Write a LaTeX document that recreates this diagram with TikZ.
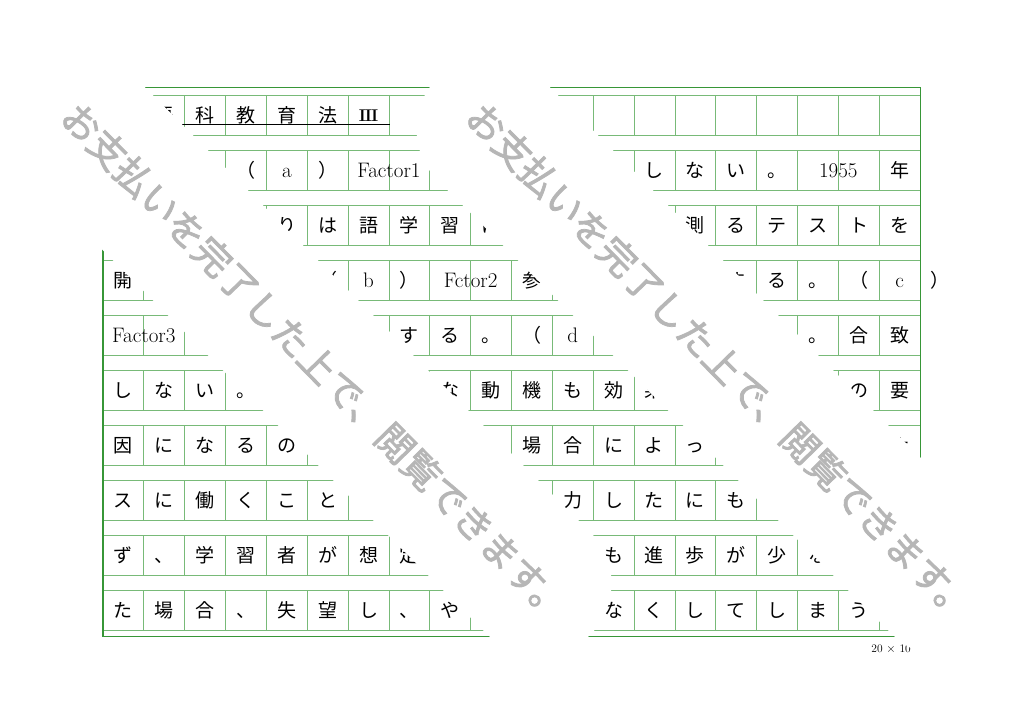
\documentclass[tikz,border=0pt]{standalone}
\usepackage{fontspec}
\newfontfamily\jp{Noto Sans CJK JP}
\newfontfamily\jpwm{Noto Sans CJK JP}[FakeBold=2]
\definecolor{framegreen}{RGB}{55,150,55}
\definecolor{cellgreen}{RGB}{120,186,120}
\definecolor{wmgray}{RGB}{182,182,182}
\newcommand\gc[3]{\node[jc] (j-#2-#1) at ({123.43+40.85*#1},{122.2+55*#2}) {#3};}
\newcommand\gl[3]{\node[lc] (l-#2-#1) at ({103+40.85*#1},{122.2+55*#2}) {#3};}
\newcommand\gs[3]{\node[lc] (s-#2-#1) at ({123.43+40.85*#1},{122.2+55*#2}) {#3};}
\begin{document}
\begin{tikzpicture}[x=1pt,y=-1pt,
  frame/.style={draw=framegreen, line width=1.6pt},
  cell/.style={draw=cellgreen, line width=0.8pt},
  jc/.style={font=\jp\fontsize{19}{19}\selectfont, inner sep=0pt, anchor=base},
  lc/.style={font=\fontsize{21}{21}\selectfont\addfontfeature{FakeBold=0.7}, inner sep=0pt, anchor=base},
  band/.style={draw=white, line width=145pt, line cap=round},
  wm/.style={font=\jpwm\fontsize{37.5}{37.5}\selectfont, text=wmgray, rotate=-45.6, inner sep=0pt, anchor=center}]
\useasboundingbox (0,0) rectangle (1024,724);
\fill[white] (0,0) rectangle (1024,724);
% grid
\foreach \r in {0,...,9} {
  \pgfmathsetmacro\yt{95+55*\r}
  \pgfmathsetmacro\yb{135+55*\r}
  \draw[cell] (103,\yt) -- (920,\yt);
  \draw[cell] (103,\yb) -- (920,\yb);
  \foreach \k in {1,...,19} {
    \draw[cell] ({103+40.85*\k},\yt) -- ({103+40.85*\k},\yb);
  }
}
\draw[frame] (103,87.5) rectangle (920.5,636.5);
% row 0
\foreach \k/\t in {1/語,2/科,3/教,4/育,5/法} {\gc{\k}{0}{\t}}
\node[lc, font=\fontsize{17}{17}\selectfont\bfseries] (s-0-6) at ({123.43+40.85*6},121.5) {I\kern-0.9ptI\kern-0.9ptI};
\draw[black, line width=0.8pt] (103,124.3) -- (389.5,124.3);
% row 1
\gc{3}{1}{（}\gs{4}{1}{a}\gc{5}{1}{）}\gl{7}{1}{Factor1}
\foreach \k/\t in {13/し,14/な,15/い,16/。,19/年} {\gc{\k}{1}{\t}}
\gl{18}{1}{1955}
% row 2
\foreach \k/\t in {4/り,5/は,6/語,7/学,8/習,9/に,14/測,15/る,16/テ,17/ス,18/ト,19/を} {\gc{\k}{2}{\t}}
% row 3
\gc{0}{3}{開}\gc{5}{3}{（}\gs{6}{3}{b}\gc{7}{3}{）}\gl{9}{3}{Fctor2}\gc{10}{3}{参}
\foreach \k/\t in {15/す,16/る,17/。,18/（,20/）} {\gc{\k}{3}{\t}}
\gs{19}{3}{c}
% row 4
\gl{1}{4}{Factor3}
\foreach \k/\t in {7/す,8/る,9/。,10/（,17/。,18/合,19/致} {\gc{\k}{4}{\t}}
\gs{11}{4}{d}
% row 5
\foreach \k/\t in {0/し,1/な,2/い,3/。,8/な,9/動,10/機,11/も,12/効,13/果,18/の,19/要} {\gc{\k}{5}{\t}}
% row 6
\foreach \k/\t in {0/因,1/に,2/な,3/る,4/の,10/場,11/合,12/に,13/よ,14/っ,19/ナ} {\gc{\k}{6}{\t}}
% row 7
\foreach \k/\t in {0/ス,1/に,2/働,3/く,4/こ,5/と,11/力,12/し,13/た,14/に,15/も} {\gc{\k}{7}{\t}}
% row 8
\foreach \k/\t in {0/ず,1/、,2/学,3/習,4/者,5/が,6/想,7/定,12/も,13/進,14/歩,15/が,16/少,17/な} {\gc{\k}{8}{\t}}
% row 9
\foreach \k/\t in {0/た,1/場,2/合,3/、,4/失,5/望,6/し,7/、,8/や,12/な,13/く,14/し,15/て,16/し,17/ま,18/う} {\gc{\k}{9}{\t}}
% size label
\node[font=\fontsize{11.5}{11.5}\selectfont, inner sep=0pt, anchor=base east] (lbl) at (911,652) {20 $\times$ 10};
% watermark bands
\draw[band] (84,129) -- (539,583.5);
\node[wm] (w1) at (316,362) {お支払いを完了した上で、閲覧できます。};
\draw[band] (489,129) -- (944,583.5);
\node[wm] (w2) at (721,362) {お支払いを完了した上で、閲覧できます。};
\end{tikzpicture}
\end{document}
